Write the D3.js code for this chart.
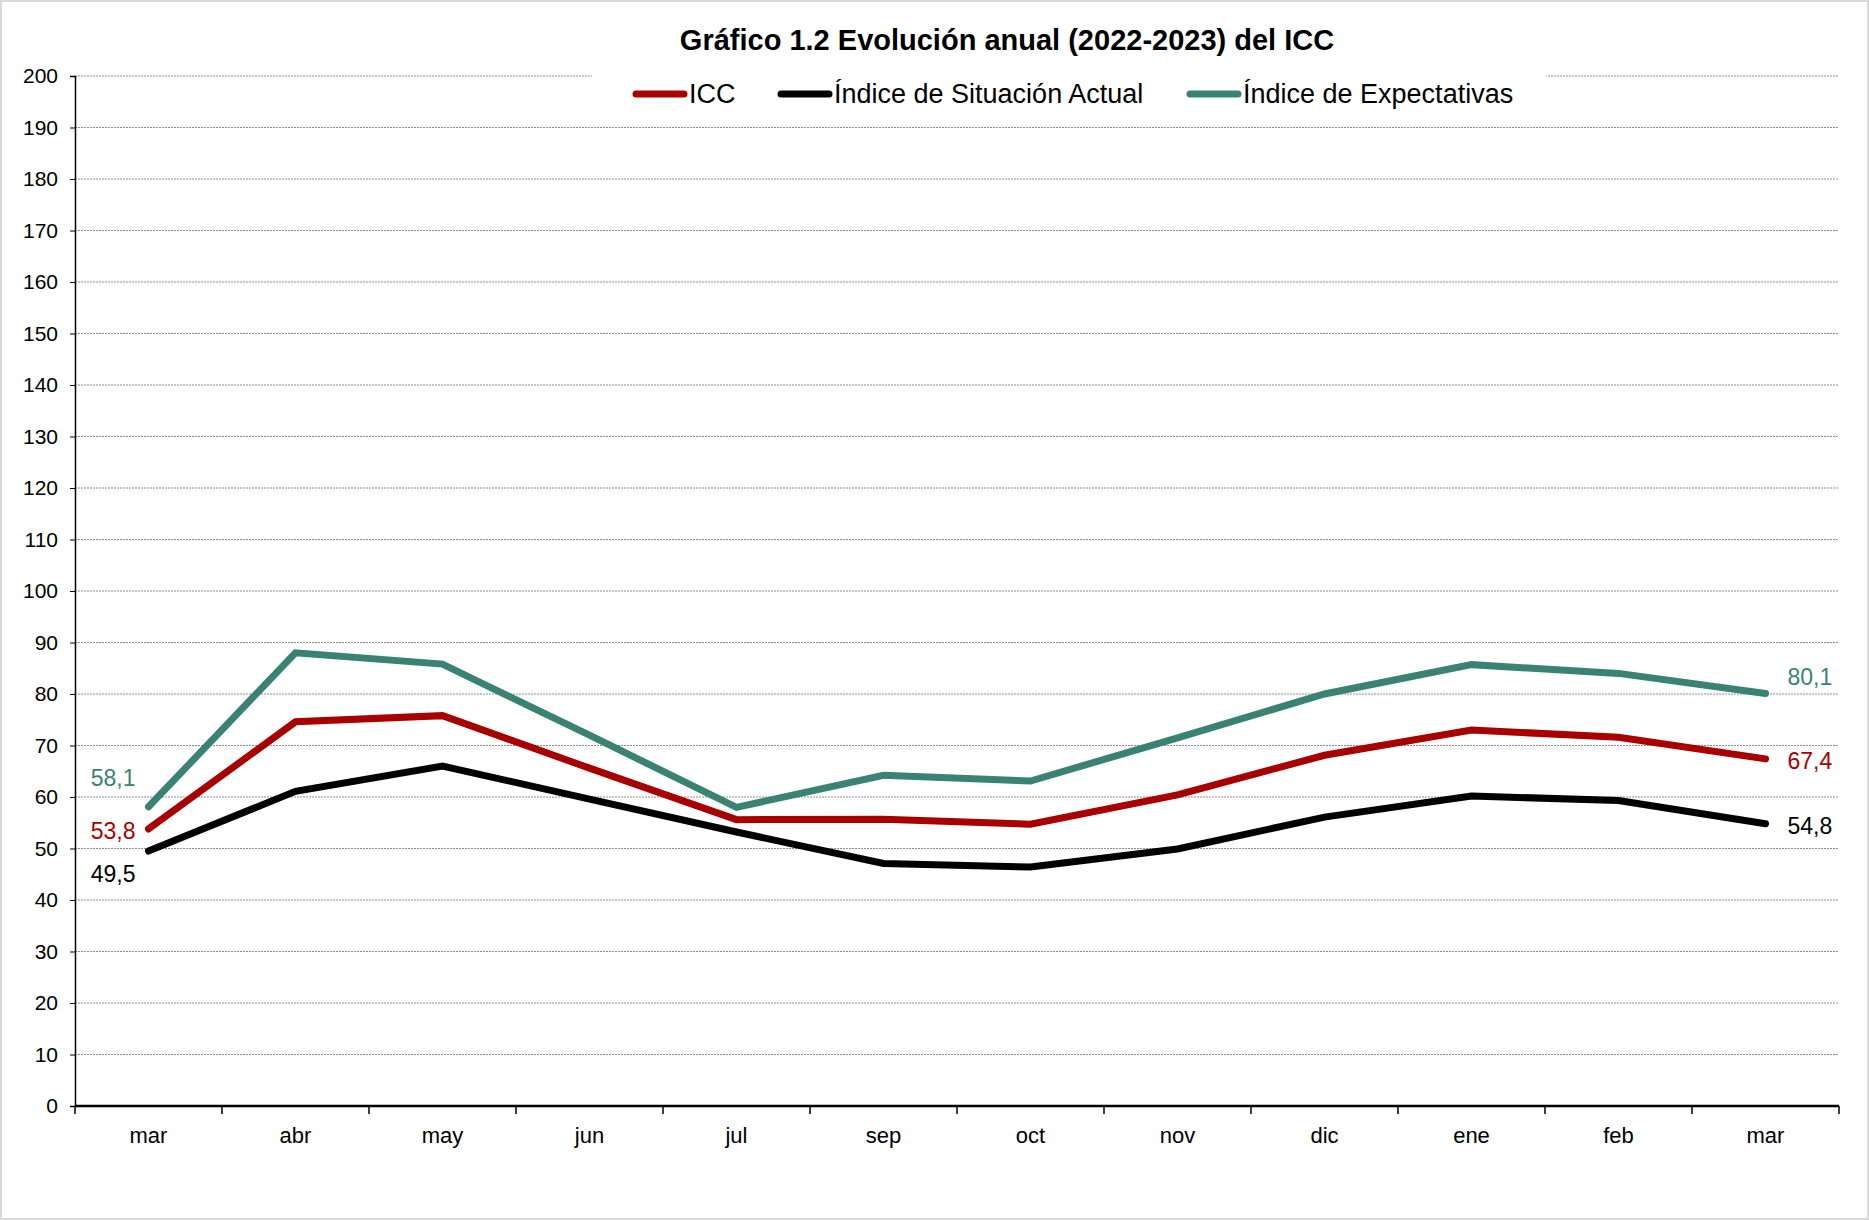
<!DOCTYPE html>
<html>
<head>
<meta charset="utf-8">
<script src="https://cdn.jsdelivr.net/npm/d3@7"></script>
<style>
  body { margin: 0; background: #fff; }
  svg { display: block; font-family: "Liberation Sans", Arial, sans-serif; }
</style>
</head>
<body>
<div id="chart"></div>
<script>
// chart data
var months = ["mar", "abr", "may", "jun", "jul", "sep", "oct", "nov", "dic", "ene", "feb", "mar"];
var icc = [53.8, 74.6, 75.8, 65.6, 55.6, 55.7, 54.7, 60.4, 68.1, 73.0, 71.6, 67.4];
var situacion = [49.5, 61.1, 66.0, 59.6, 53.2, 47.1, 46.4, 49.9, 56.1, 60.2, 59.3, 54.8];
var expectativas = [58.1, 88.0, 85.8, 72.0, 58.0, 64.2, 63.1, 71.5, 80.0, 85.7, 84.0, 80.1];
var yTicks = d3.range(0, 201, 10);

var series = [
    {name: "ICC", values: icc, color: "#a80000"},
    {name: "Índice de Situación Actual", values: situacion, color: "#000000"},
    {name: "Índice de Expectativas", values: expectativas, color: "#3a8273"}
];

function init() {
    var w = 1869, h = 1220;
    var margin = {left: 75, right: 30, top: 76, bottom: 114};

    var svg = d3.select("#chart").append("svg")
        .attr("width", w)
        .attr("height", h);

    // outer frame
    svg.append("rect")
        .attr("x", 1).attr("y", 1)
        .attr("width", w - 2).attr("height", h - 2)
        .attr("fill", "#fff")
        .attr("stroke", "#d9d9d9")
        .attr("stroke-width", 2);

    var x = d3.scaleBand()
        .domain(d3.range(months.length))
        .range([margin.left, w - margin.right]);

    var y = d3.scaleLinear()
        .domain([0, 200])
        .range([h - margin.bottom, margin.top]);

    // gridlines
    svg.append("g")
        .selectAll("line")
        .data(yTicks.filter(function(d){ return d > 0; }))
        .enter()
        .append("line")
        .attr("x1", margin.left)
        .attr("x2", w - margin.right)
        .attr("y1", function(d){ return y(d); })
        .attr("y2", function(d){ return y(d); })
        .attr("stroke", "#8c8c8c")
        .attr("stroke-width", 1)
        .attr("stroke-dasharray", "2,1");

    // y axis
    var yAxis = svg.append("g")
        .attr("transform", "translate(" + margin.left + ",0)")
        .call(d3.axisLeft(y).tickValues(yTicks).tickSize(5).tickPadding(12).tickFormat(d3.format("d")));
    yAxis.select(".domain").attr("stroke", "#000").attr("stroke-width", 1.5);
    yAxis.selectAll("text").attr("font-size", 21).attr("fill", "#000")
        .attr("font-family", "Liberation Sans, Arial, sans-serif");

    // x axis
    var xAxis = svg.append("g")
        .attr("transform", "translate(0," + y(0) + ")");
    xAxis.append("line")
        .attr("x1", margin.left).attr("x2", w - margin.right)
        .attr("stroke", "#000").attr("stroke-width", 2.5);
    xAxis.selectAll(".tk")
        .data(d3.range(months.length + 1))
        .enter()
        .append("line")
        .attr("class", "tk")
        .attr("x1", function(i){ return margin.left + i * x.bandwidth(); })
        .attr("x2", function(i){ return margin.left + i * x.bandwidth(); })
        .attr("y1", 0).attr("y2", 8)
        .attr("stroke", "#000").attr("stroke-width", 1.5);
    xAxis.selectAll("text")
        .data(months)
        .enter()
        .append("text")
        .attr("x", function(d, i){ return x(i) + x.bandwidth() / 2; })
        .attr("y", 37)
        .attr("text-anchor", "middle")
        .attr("font-size", 22)
        .text(function(d){ return d; });

    // lines
    var line = d3.line()
        .x(function(d, i){ return x(i) + x.bandwidth() / 2; })
        .y(function(d){ return y(d); });

    svg.selectAll(".series")
        .data(series)
        .enter()
        .append("path")
        .attr("class", "series")
        .attr("d", function(s){ return line(s.values); })
        .attr("fill", "none")
        .attr("stroke", function(s){ return s.color; })
        .attr("stroke-width", 7)
        .attr("stroke-linecap", "round")
        .attr("stroke-linejoin", "miter");

    // end labels (offsets follow series order: ICC, situacion, expectativas)
    var fmt = function(v){ return d3.format(".1f")(v).replace(".", ","); };
    var first = x(0) + x.bandwidth() / 2;
    var last = x(months.length - 1) + x.bandwidth() / 2;
    var leftOff = [2, 23, -29];
    var rightOff = [2, 2, -17];
    series.forEach(function(s, k){
        svg.append("text")
            .attr("x", first - 13)
            .attr("y", y(s.values[0]) + leftOff[k])
            .attr("dy", "0.35em")
            .attr("text-anchor", "end")
            .attr("font-size", 23)
            .attr("fill", s.color)
            .text(fmt(s.values[0]));
        svg.append("text")
            .attr("x", last + 22)
            .attr("y", y(s.values[s.values.length - 1]) + rightOff[k])
            .attr("dy", "0.35em")
            .attr("font-size", 23)
            .attr("fill", s.color)
            .text(fmt(s.values[s.values.length - 1]));
    });

    // title
    svg.append("text")
        .attr("x", 1007)
        .attr("y", 50)
        .attr("text-anchor", "middle")
        .attr("font-size", 29)
        .attr("font-weight", "bold")
        .text("Gráfico 1.2 Evolución anual (2022-2023) del ICC");

    // legend
    var legX = [632, 777, 1186];
    var legend = svg.append("g");
    legend.append("rect")
        .attr("x", 592).attr("y", 64)
        .attr("width", 954).attr("height", 52)
        .attr("fill", "#fff");
    var item = legend.selectAll(".item")
        .data(series)
        .enter()
        .append("g")
        .attr("class", "item")
        .attr("transform", function(d, i){ return "translate(" + legX[i] + ",94)"; });
    item.append("line")
        .attr("x1", 4).attr("x2", 52)
        .attr("stroke", function(d){ return d.color; })
        .attr("stroke-width", 7)
        .attr("stroke-linecap", "round");
    item.append("text")
        .attr("x", 57)
        .attr("dy", "0.35em")
        .attr("font-size", 27)
        .text(function(d){ return d.name; });
}
window.onload = init;
</script>
</body>
</html>
